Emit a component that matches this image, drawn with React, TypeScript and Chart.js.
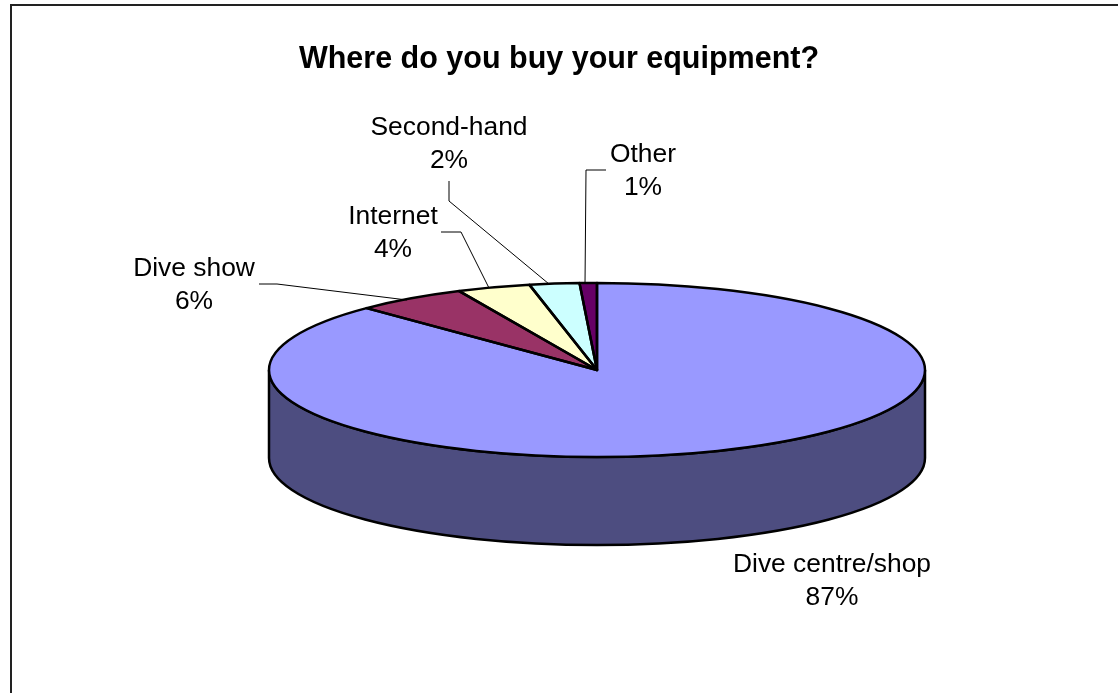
import React, { useEffect, useRef } from "react";
import { Chart, registerables } from "chart.js";

Chart.register(...registerables);

const chartTitle = "Where do you buy your equipment?";
const categories = ["Dive centre/shop", "Dive show", "Internet", "Second-hand", "Other"];
// wedge sizes as measured on the picture; the printed labels are the rounded figures
const shares = [87.6, 5.5, 3.6, 2.45, 0.85];
const printedShares = ["87%", "6%", "4%", "2%", "1%"];
const topColors = ["#9999FF", "#993366", "#FFFFCC", "#CCFFFF", "#660066"];
const wallColor = "#4D4D80";

const FONT = '"Liberation Sans", Arial, sans-serif';
const CX = 597, CY = 370, RX = 328, RY = 87, DEPTH = 88;

// label centre x, first-line baseline y, leader polyline
const labelLayout = [
  { x: 832, y: 572, leader: [] as number[][] },
  { x: 194, y: 276, leader: [[259, 284], [277, 284], [407, 300]] },
  { x: 393, y: 224, leader: [[441, 232], [461, 232], [489, 288]] },
  { x: 449, y: 135, leader: [[449, 181], [449, 201], [549, 284]] },
  { x: 643, y: 162, leader: [[606, 170], [586, 170], [585, 284]] },
];

const threeDPie = {
  id: "threeDPie",
  beforeDatasetsDraw(chart: any) {
    const ctx = chart.ctx;
    const a0 = chart.getDatasetMeta(0).data[0];
    ctx.save();
    // side wall: visible lower half of the cylinder
    ctx.beginPath();
    ctx.ellipse(CX, CY, RX, RY, 0, Math.PI, 0, true);
    ctx.lineTo(CX + RX, CY + DEPTH);
    ctx.ellipse(CX, CY + DEPTH, RX, RY, 0, 0, Math.PI, false);
    ctx.closePath();
    ctx.fillStyle = wallColor;
    ctx.fill();
    ctx.lineWidth = 2.5;
    ctx.strokeStyle = "#000";
    ctx.stroke();
    ctx.restore();
    // flatten the library's own arcs onto the ellipse
    ctx.save();
    ctx.translate(CX, CY);
    ctx.scale(RX / a0.outerRadius, RY / a0.outerRadius);
    ctx.translate(-a0.x, -a0.y);
  },
  afterDatasetsDraw(chart: any) {
    const ctx = chart.ctx;
    const arcs = chart.getDatasetMeta(0).data;
    const a0 = arcs[0];
    ctx.restore();
    // uniform-width outlines of the wedges
    arcs.forEach((arc: any) => {
      ctx.save();
      ctx.translate(CX, CY);
      ctx.scale(RX / a0.outerRadius, RY / a0.outerRadius);
      ctx.beginPath();
      ctx.moveTo(0, 0);
      ctx.arc(0, 0, a0.outerRadius, arc.startAngle, arc.endAngle);
      ctx.closePath();
      ctx.restore();
      ctx.lineWidth = 2.5;
      ctx.lineJoin = "round";
      ctx.strokeStyle = "#000";
      ctx.stroke();
    });
    // leader lines
    ctx.save();
    ctx.lineWidth = 1;
    ctx.strokeStyle = "#000";
    labelLayout.forEach((l) => {
      if (!l.leader.length) return;
      ctx.beginPath();
      l.leader.forEach(([x, y], i) => (i ? ctx.lineTo(x, y) : ctx.moveTo(x, y)));
      ctx.stroke();
    });
    // labels
    ctx.fillStyle = "#000";
    ctx.font = `26.4px ${FONT}`;
    ctx.textAlign = "center";
    ctx.textBaseline = "alphabetic";
    categories.forEach((name, i) => {
      const l = labelLayout[i];
      ctx.fillText(name, l.x, l.y);
      ctx.fillText(printedShares[i], l.x, l.y + 33);
    });
    ctx.restore();
  },
};

const framePlugin = {
  id: "frame",
  beforeDraw(chart: any) {
    const ctx = chart.ctx;
    ctx.save();
    ctx.fillStyle = "#fff";
    ctx.fillRect(0, 0, chart.width, chart.height);
    ctx.strokeStyle = "#222";
    ctx.lineWidth = 2;
    ctx.beginPath();
    ctx.moveTo(11, chart.height);
    ctx.lineTo(11, 5);
    ctx.lineTo(chart.width, 5);
    ctx.stroke();
    ctx.restore();
  },
};

export default function App() {
  const ref = useRef<HTMLCanvasElement>(null);
  useEffect(() => {
    document.body.style.margin = "0";
    const chart = new Chart(ref.current!, {
      type: "pie",
      data: {
        labels: categories,
        datasets: [{ data: shares, backgroundColor: topColors, borderWidth: 0 }],
      },
      options: {
        animation: false,
        responsive: false,
        plugins: {
          legend: { display: false },
          tooltip: { enabled: false },
          title: {
            display: true,
            text: chartTitle,
            color: "#000",
            font: { family: FONT, size: 30.5, weight: "bold" },
            padding: { top: 41, bottom: 10 },
          },
        },
      },
      plugins: [framePlugin, threeDPie],
    } as any);
    return () => chart.destroy();
  }, []);
  return <canvas ref={ref} width={1118} height={693} style={{ display: "block" }} />;
}
